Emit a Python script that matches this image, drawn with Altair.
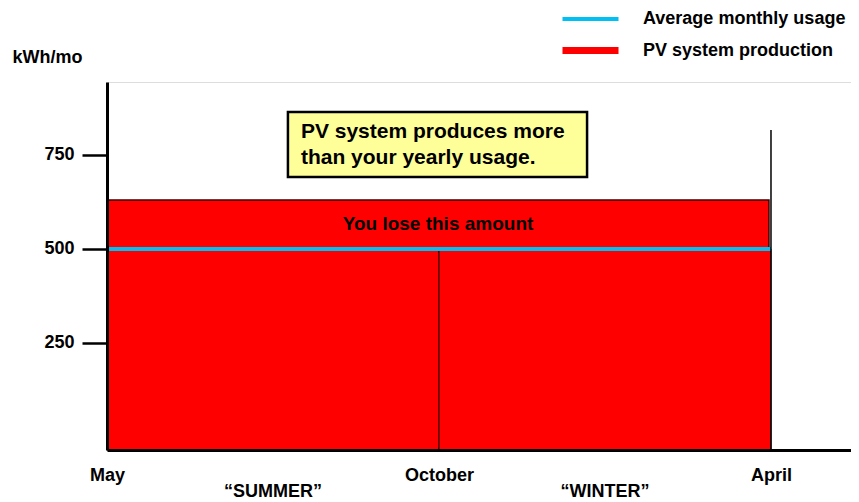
import altair as alt
import pandas as pd

FONT = "Liberation Sans"

# ---- data ----
month_labels = ["May", "October", "April"]
month_pos = [0, 1, 2]

period_names = ["Summer", "Winter"]
period_start = [0, 1]
period_end = [1, 2]
production_value = [500, 500]
axis_floor = -35

usage_value = 500
usage_start = 0
usage_end = 2

loss_name = ["You lose this amount"]
loss_start = [0]
loss_end = [1.994]
loss_low = [500]
loss_high = [630]

season_labels = ["\u201cSUMMER\u201d", "\u201cWINTER\u201d"]
season_pos = [0.5, 1.5]
season_y = [-160, -160]

y_ticks = [250, 500, 750]
series = ["Average monthly usage", "PV system production"]
series_colors = ["#00BFF3", "#FF0000"]
series_widths = [4, 7]

note_text = ["PV system produces more", "than your yearly usage."]
note_box = {"x": 0.545, "x2": 1.446, "y": 864, "y2": 691}
note_anchor = {"x": 0.584, "y": 811}

april_line = {"x": 2.0, "y": 816}

x_dom = [0, 2.241]
y_dom = [axis_floor, 944]

# ---- tables ----
bars = pd.DataFrame({"period": period_names, "start": period_start,
                     "end": period_end, "value": production_value,
                     "floor": [axis_floor] * 2})
loss = pd.DataFrame({"name": loss_name, "start": loss_start, "end": loss_end,
                     "low": loss_low, "high": loss_high,
                     "mid": [(a + b) / 2 for a, b in zip(loss_low, loss_high)],
                     "xmid": [(a + b) / 2 for a, b in zip(loss_start, loss_end)]})
usage = pd.DataFrame({"series": [series[0]], "start": [usage_start],
                      "end": [usage_end], "value": [usage_value]})
seasons = pd.DataFrame({"label": season_labels, "x": season_pos, "y": season_y})
note = pd.DataFrame({"x": [note_box["x"]], "x2": [note_box["x2"]],
                     "y": [note_box["y"]], "y2": [note_box["y2"]],
                     "tx": [note_anchor["x"]], "ty": [note_anchor["y"]],
                     "text": [note_text]})
april = pd.DataFrame({"x": [april_line["x"]], "y": [april_line["y"]],
                      "y2": [axis_floor]})

xs = alt.Scale(domain=x_dom, nice=False, zero=False)
ys = alt.Scale(domain=y_dom, nice=False, zero=False)

label_expr = "[" + ",".join("'%s'" % m for m in month_labels) + "][datum.value]"

x_axis = alt.Axis(values=month_pos, labelExpr=label_expr, title=None,
                  grid=False, ticks=False, labelFlush=False,
                  labelFont=FONT, labelFontSize=18, labelFontWeight="bold",
                  labelColor="black", labelPadding=16, labelAngle=0,
                  domainColor="black", domainWidth=3, zindex=1)
y_axis = alt.Axis(values=y_ticks, title="kWh/mo", grid=False,
                  tickSize=25, tickWidth=2.5, tickColor="black",
                  labelFont=FONT, labelFontSize=18, labelFontWeight="bold",
                  labelColor="black", labelPadding=8,
                  domainColor="black", domainWidth=3,
                  titleAngle=0, titleX=-95, titleY=-25, titleAlign="left",
                  titleBaseline="middle", titleFont=FONT, titleFontSize=18,
                  titleFontWeight="bold", titleColor="black", zindex=1)

base_bars = alt.Chart(bars).mark_rect(color="#FF0000", stroke="#2a0000",
                                      strokeWidth=1).encode(
    x=alt.X("start:Q", scale=xs, axis=x_axis),
    x2="end:Q",
    y=alt.Y("floor:Q", scale=ys, axis=y_axis),
    y2="value:Q",
)

loss_rect = alt.Chart(loss).mark_rect(color="#FF0000", stroke="#3a0000",
                                      strokeWidth=1.5).encode(
    x=alt.X("start:Q", scale=xs), x2="end:Q",
    y=alt.Y("low:Q", scale=ys), y2="high:Q",
)
loss_text = alt.Chart(loss).mark_text(font=FONT, fontSize=19, fontWeight="bold",
                                      color="black").encode(
    x=alt.X("xmid:Q", scale=xs), y=alt.Y("mid:Q", scale=ys), text="name:N")

usage_rule = alt.Chart(usage).mark_rule().encode(
    x=alt.X("start:Q", scale=xs), x2="end:Q",
    y=alt.Y("value:Q", scale=ys),
    color=alt.Color("series:N",
                    scale=alt.Scale(domain=series, range=series_colors),
                    legend=alt.Legend(title=None, orient="none", legendX=466,
                                      legendY=-79, symbolType="M-2,0H2",
                                      symbolSize=784, labelOffset=35,
                                      labelFont=FONT, labelFontSize=18,
                                      labelFontWeight="bold", labelLimit=400,
                                      labelColor="black", rowPadding=5,
                                      padding=0)),
    strokeWidth=alt.StrokeWidth("series:N",
                                scale=alt.Scale(type="ordinal", domain=series,
                                                range=series_widths),
                                legend=alt.Legend(title=None, orient="none",
                                                  legendX=466, legendY=-79)),
)

april_rule = alt.Chart(april).mark_rule(color="black", strokeWidth=1.5).encode(
    x=alt.X("x:Q", scale=xs), y=alt.Y("y:Q", scale=ys), y2="y2:Q")

note_rect = alt.Chart(note).mark_rect(fill="#FFFF99", stroke="black",
                                      strokeWidth=2.5).encode(
    x=alt.X("x:Q", scale=xs), x2="x2:Q", y=alt.Y("y:Q", scale=ys), y2="y2:Q")
note_txt = alt.Chart(note).mark_text(font=FONT, fontSize=21, fontWeight="bold",
                                     color="black", align="left",
                                     baseline="middle", lineHeight=26).encode(
    x=alt.X("tx:Q", scale=xs), y=alt.Y("ty:Q", scale=ys), text="text")

season_txt = alt.Chart(seasons).mark_text(font=FONT, fontSize=18,
                                          fontWeight="bold", color="black",
                                          baseline="alphabetic").encode(
    x=alt.X("x:Q", scale=xs), y=alt.Y("y:Q", scale=ys), text="label:N")

chart = alt.layer(base_bars, loss_rect, loss_text, usage_rule, april_rule,
                  note_rect, note_txt, season_txt).properties(
    width=744, height=368,
    autosize=alt.AutoSizeParams(type="none"),
    padding={"left": 99, "top": 74, "right": 0, "bottom": 52},
).configure_view(stroke=None).configure(background="white")

chart.save("out.html", embed_options={"renderer": "svg", "actions": False})
